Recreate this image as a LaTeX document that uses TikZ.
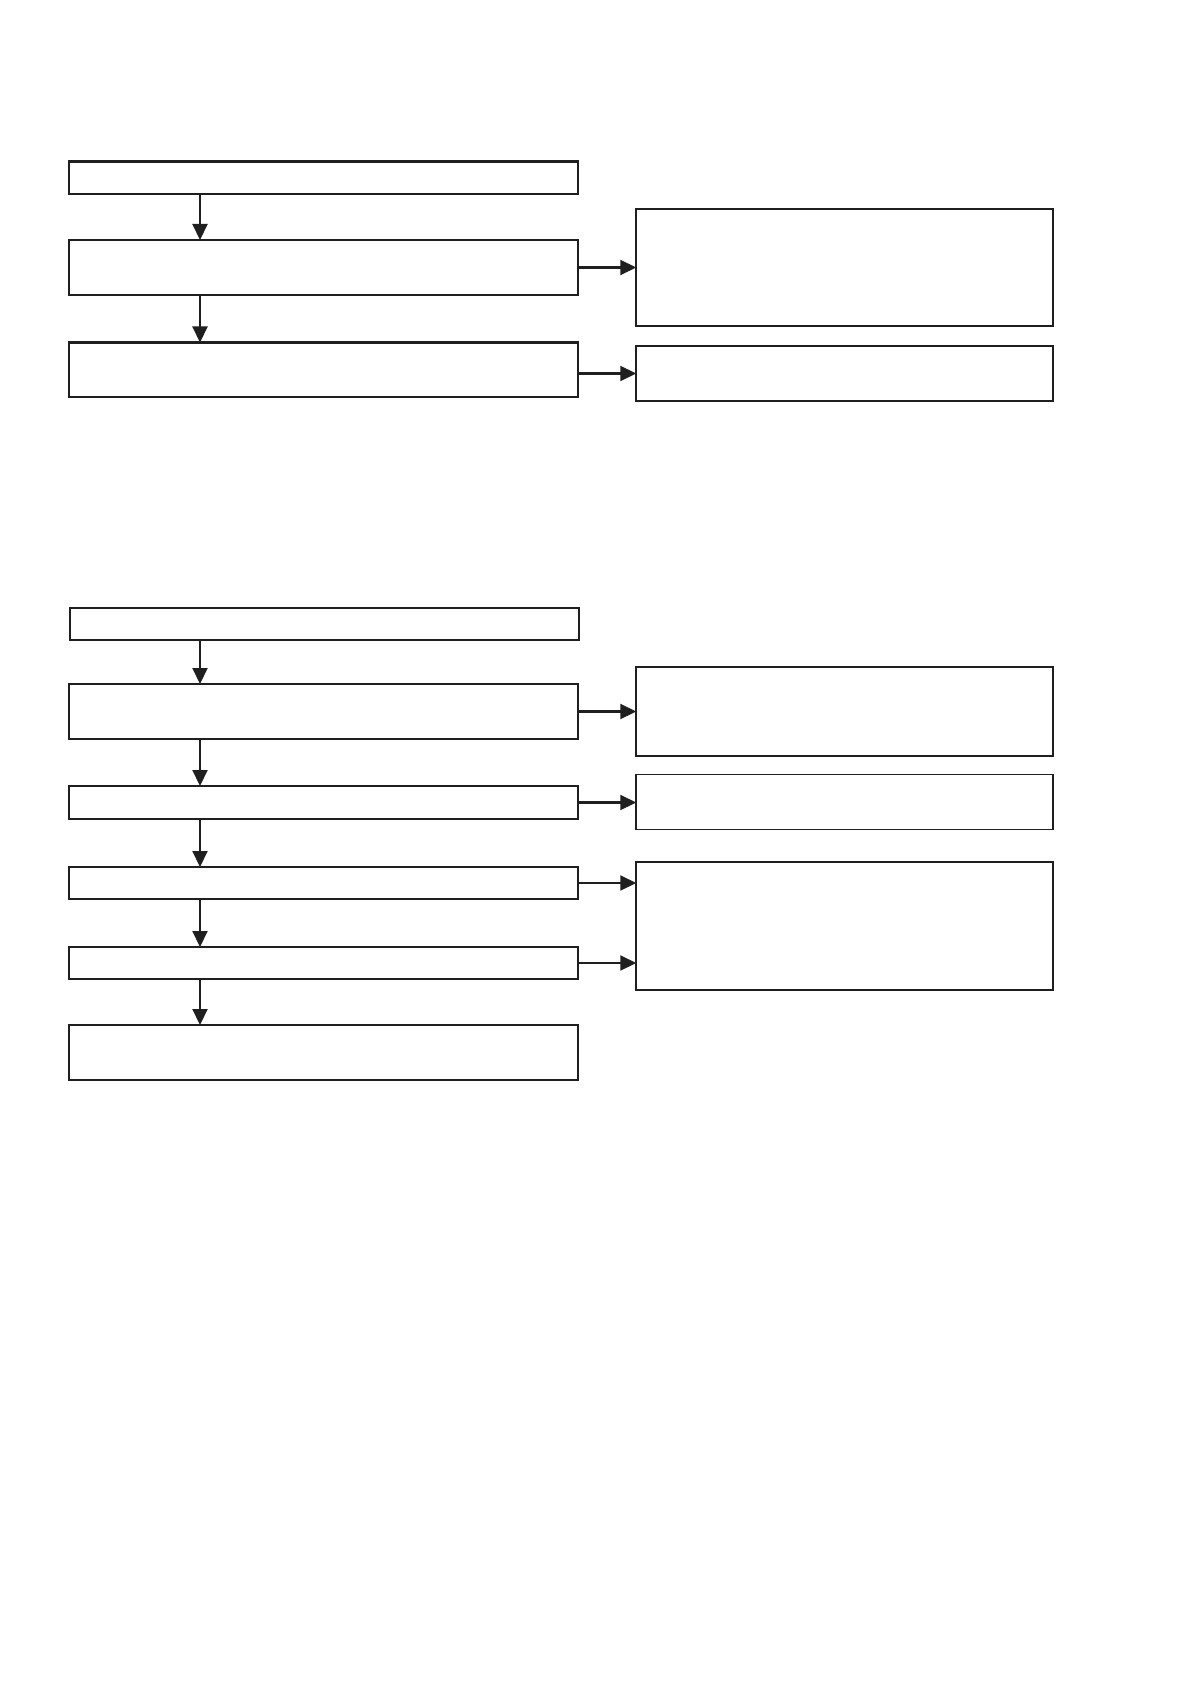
\documentclass[tikz,border=0pt]{standalone}
\usetikzlibrary{arrows.meta}
\begin{document}
\begin{tikzpicture}[x=0.5pt,y=-0.5pt,
  lbox/.style={draw=black!88,line width=1.05pt,rectangle,inner sep=0pt,outer sep=0pt,minimum width=254.5pt},
  rbox/.style={draw=black!88,line width=0.8pt,rectangle,inner sep=0pt,outer sep=0pt,minimum width=208.25pt},
  arr/.style={draw=black!88,line width=1.05pt,-{Triangle[length=8pt,width=7.5pt]}}]
\useasboundingbox (0,0) rectangle (1191,1684);
\fill[white] (0,0) rectangle (1191,1684);
% top group
\node[lbox,minimum height=16.25pt] (A1) at (323.5,177.75) {};
\node[lbox,minimum height=27.5pt] (A2) at (323.5,267.5) {};
\node[lbox,minimum height=27.25pt] (A3) at (323.5,369.75) {};
\node[rbox,minimum height=58.5pt] (R1) at (844.5,267.5) {};
\node[rbox,minimum height=27.5pt] (R2) at (844.5,373.5) {};
\coordinate (X) at (200,0);
\draw[arr] (A1.south -| X) -- (A2.north -| X);
\draw[arr] (A2.south -| X) -- (A3.north -| X);
\draw[arr] (A2.east) -- (R1.west);
\draw[arr] (A3.east |- R2.west) -- (R2.west);
% bottom group
\node[lbox,minimum height=16.25pt] (B1) at (324.5,624) {};
\node[lbox,minimum height=27.5pt] (B2) at (323.5,711.5) {};
\node[lbox,minimum height=16.5pt] (B3) at (323.5,802.5) {};
\node[lbox,minimum height=16pt] (B4) at (323.5,883) {};
\node[lbox,minimum height=16pt] (B5) at (323.5,963) {};
\node[lbox,minimum height=27.5pt] (B6) at (323.5,1052.5) {};
\node[rbox,minimum height=44.5pt] (S1) at (844.5,711.5) {};
\node[rbox,minimum height=27.5pt] (S2) at (844.5,802) {};
\node[rbox,minimum height=64pt] (S3) at (844.5,926) {};
\draw[arr] (B1.south -| X) -- (B2.north -| X);
\draw[arr] (B2.south -| X) -- (B3.north -| X);
\draw[arr] (B3.south -| X) -- (B4.north -| X);
\draw[arr] (B4.south -| X) -- (B5.north -| X);
\draw[arr] (B5.south -| X) -- (B6.north -| X);
\draw[arr] (B2.east) -- (S1.west);
\draw[arr] (B3.east) -- (B3.east -| S2.west);
\draw[arr] (B4.east) -- (B4.east -| S3.west);
\draw[arr] (B5.east) -- (B5.east -| S3.west);
\end{tikzpicture}
\end{document}
